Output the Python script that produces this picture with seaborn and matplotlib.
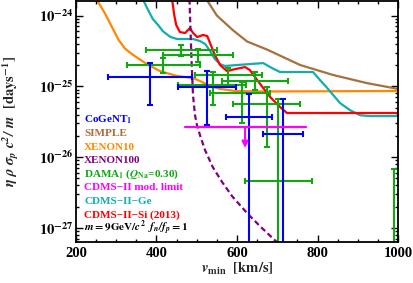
import numpy as np
import pandas as pd
import matplotlib
matplotlib.use('Agg')
import matplotlib.pyplot as plt
import seaborn as sns
from matplotlib.ticker import FixedLocator, MultipleLocator, LogLocator, NullFormatter, FixedFormatter

# curvas de limite (v_min em km/s, eta*rho*sigma*c^2/m em 1/dia)
simple_v = [500, 525, 550, 590, 625, 675, 757, 838, 923, 1000]
simple_y = [2.2e-24, 1.66e-24, 1.0e-24, 6.2e-25, 4.3e-25, 3.3e-25, 2.0e-25, 1.45e-25, 1.11e-25, 9.2e-26]

xenon10_v = [245, 252, 270, 285, 305, 322, 342, 376, 409, 451, 491, 508, 533, 558, 595, 657, 1000]
xenon10_y = [2.0e-24, 1.66e-24, 1.12e-24, 7.7e-25, 4.6e-25, 3.4e-25, 2.77e-25, 2.06e-25, 1.64e-25,
             1.40e-25, 1.31e-25, 1.19e-25, 1.01e-25, 9.2e-26, 8.6e-26, 8.45e-26, 8.6e-26]

xenon100_v = [481, 482, 484.5, 487, 490.7, 495.7, 500.6, 508, 520.5, 540, 563, 588, 625, 657, 699, 720]
xenon100_y = [2.3e-24, 1.66e-24, 6.2e-25, 2.36e-25, 7.5e-26, 3.9e-26, 2.84e-26, 2.05e-26, 1.26e-26,
              7.2e-27, 4.45e-27, 2.8e-27, 1.62e-27, 1.06e-27, 6.3e-28, 4.9e-28]

cdmsge_v = [360, 367, 379, 391, 404, 416, 434, 451, 491, 508, 521, 533, 545, 558, 570, 665, 687, 707,
            789, 806, 824, 856, 881, 906, 930, 1000]
cdmsge_y = [2.2e-24, 1.66e-24, 1.20e-24, 8.9e-25, 7.35e-25, 6.0e-25, 5.0e-25, 4.66e-25, 4.66e-25, 4.36e-25,
            3.96e-25, 3.16e-25, 2.43e-25, 2.06e-25, 1.94e-25, 2.13e-25, 1.81e-25, 1.59e-25, 1.59e-25,
            1.23e-25, 9.5e-26, 5.8e-26, 4.6e-26, 3.9e-26, 3.8e-26, 3.8e-26]

cdmssi_v = [436, 439, 444, 449, 458, 471, 483, 491, 501, 516, 526, 533, 545, 558, 575, 595, 620, 632,
            650, 665, 682, 707, 724, 1000]
cdmssi_y = [2.2e-24, 1.66e-24, 1.02e-24, 7.35e-25, 5.85e-25, 5.66e-25, 6.65e-25, 5.66e-25, 4.97e-25,
            5.31e-25, 5.13e-25, 4.09e-25, 2.77e-25, 2.0e-25, 1.64e-25, 1.75e-25, 1.87e-25, 1.70e-25,
            1.23e-25, 9.5e-26, 7.1e-26, 5.1e-26, 4.2e-26, 4.2e-26]

# CDMS-II modulacao (limite superior)
mod_v = [471, 771]
mod_y = [2.66e-26, 2.66e-26]
mod_arrow_v = 620
mod_arrow_y = 1.35e-26

# CoGeNT
cog_v = [384, 525, 630, 714]
cog_vlo = [280, 453, 573, 665]
cog_vhi = [488, 597, 687, 764]
cog_y = [1.35e-25, 9.8e-26, 3.7e-26, 2.1e-26]
cog_ylo = [5.4e-26, 2.85e-26, 1e-29, 1e-29]
cog_yhi = [2.15e-25, 1.64e-25, 7.8e-26, 6.6e-26]

# DAMA
dama_v = [461, 503, 416, 578, 645, 540, 612, 675, 702, 990]
dama_vlo = [374, 416, 327, 496, 563, 453, 533, 590, 620, 955]
dama_vhi = [550, 590, 508, 662, 727, 622, 682, 757, 786, 1025]
dama_y = [3.26e-25, 2.77e-25, 2.0e-25, 1.45e-25, 1.19e-25, 1.04e-25, 8.0e-26, 5.6e-26, 4.6e-27, 3e-28]
dama_ylo = [2.68e-25, 2.2e-25, 1.54e-25, 1.04e-25, 8.9e-26, 5.4e-26, 3.0e-26, 1.4e-26, 1e-29, 1e-29]
dama_yhi = [3.83e-25, 3.36e-25, 2.51e-25, 1.81e-25, 1.59e-25, 1.59e-25, 1.15e-25, 9.8e-26, 6.6e-26, 6.8e-27]

cores = {'cogent': '#0000ff', 'simple': '#a8703c', 'xenon10': '#ff8800', 'xenon100': '#800080',
         'dama': '#11a811', 'mod': '#ff00ff', 'ge': '#13adad', 'si': '#ff0000'}

sns.set_style('ticks')
plt.rcParams['font.family'] = ['Liberation Serif', 'DejaVu Serif']
plt.rcParams['font.weight'] = 'bold'
plt.rcParams['mathtext.fontset'] = 'stix'

fig = plt.figure(figsize=(4.13, 2.83), dpi=100)
ax = fig.add_axes([0.184, 0.1466, 0.7797, 0.8516])

curvas = [(simple_v, simple_y, 'simple'), (xenon10_v, xenon10_y, 'xenon10'),
          (cdmsge_v, cdmsge_y, 'ge'), (cdmssi_v, cdmssi_y, 'si')]
for vv, yy, nome in curvas:
    sns.lineplot(x=vv, y=yy, ax=ax, color=cores[nome], lw=1.6, sort=False, estimator=None)

sns.lineplot(x=xenon100_v, y=xenon100_y, ax=ax, color=cores['xenon100'], lw=1.6, sort=False,
             estimator=None, linestyle=(0, (2.5, 1.5)))

# pontos com barras de erro
def barras(v, vlo, vhi, y, ylo, yhi, cor):
    v, vlo, vhi = np.array(v), np.array(vlo), np.array(vhi)
    y, ylo, yhi = np.array(y), np.array(ylo), np.array(yhi)
    ax.errorbar(v, y, xerr=[v - vlo, vhi - v], yerr=[y - ylo, yhi - y], fmt='none',
                ecolor=cor, elinewidth=1.5, capsize=2.2, capthick=1.5)

barras(dama_v, dama_vlo, dama_vhi, dama_y, dama_ylo, dama_yhi, cores['dama'])
barras(cog_v, cog_vlo, cog_vhi, cog_y, cog_ylo, cog_yhi, cores['cogent'])

sns.lineplot(x=mod_v, y=mod_y, ax=ax, color=cores['mod'], lw=1.6, estimator=None)
ax.annotate('', xy=(mod_arrow_v, mod_arrow_y), xytext=(mod_arrow_v, mod_y[0]),
            arrowprops=dict(arrowstyle='-|>', color=cores['mod'], lw=1.5, mutation_scale=9,
                            shrinkA=0, shrinkB=0))

ax.set_yscale('log')
ax.set_xlim(200, 1000)
ax.set_ylim(6.43e-28, 1.63e-24)

ax.xaxis.set_major_locator(FixedLocator([200, 400, 600, 800, 1000]))
ax.xaxis.set_minor_locator(MultipleLocator(50))
ax.yaxis.set_major_locator(FixedLocator([1e-27, 1e-26, 1e-25, 1e-24]))
ax.yaxis.set_major_formatter(FixedFormatter([r'$\mathbf{10^{-27}}$', r'$\mathbf{10^{-26}}$',
                                             r'$\mathbf{10^{-25}}$', r'$\mathbf{10^{-24}}$']))
ax.yaxis.set_minor_locator(LogLocator(base=10, subs=np.arange(2, 10), numticks=20))
ax.yaxis.set_minor_formatter(NullFormatter())
ax.tick_params(which='both', direction='in', top=True, right=True, colors='black', width=1)
ax.tick_params(which='major', length=5, labelsize=10.5, pad=4)
ax.tick_params(which='minor', length=2.5)
ax.tick_params(axis='y', which='major', pad=2)
for s in ax.spines.values():
    s.set_linewidth(1.3)
    s.set_color('black')

ax.set_xlabel(r'$\mathbfit{v}_{\mathbf{min}}$  $\mathbf{[km/s]}$', fontsize=10.5)
ax.set_ylabel(r'$\mathbfit{\eta\ \rho\ \sigma_p\ c^2/\ m}$  $\mathbf{[days^{-1}]}$', fontsize=10.5)
ax.xaxis.set_label_coords(0.5, -0.08)
ax.yaxis.set_label_coords(-0.172, 0.5)

legenda = [('CoGeNT$_\\mathbf{1}$', cores['cogent']),
           ('SIMPLE', cores['simple']),
           ('XENON10', cores['xenon10']),
           ('XENON100', cores['xenon100']),
           ('DAMA$_\\mathbf{1}$ ($\\mathbfit{Q}_{\\mathbf{Na}}$=0.30)', cores['dama']),
           ('CDMS−II mod. limit', cores['mod']),
           ('CDMS−II−Ge', cores['ge']),
           ('CDMS−II−Si (2013)', cores['si']),
           (r'$\mathbfit{m}\mathbf{=9GeV/}\mathbfit{c}^{\mathbf{2}}$  $\mathbfit{f_n/f_p}\mathbf{=1}$', 'black')]
for i, (txt, cor) in enumerate(legenda):
    ax.text(0.025, 0.494 - i * 0.0563, txt, color=cor, fontsize=8, fontweight='bold',
            transform=ax.transAxes, va='baseline', ha='left')

fig.savefig('out.png', dpi=100)
